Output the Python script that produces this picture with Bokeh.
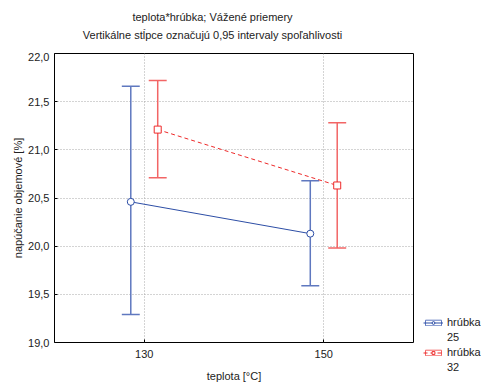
from bokeh.plotting import figure
from bokeh.layouts import row, column
from bokeh.models import FixedTicker, Legend, LegendItem, Range1d
from bokeh.core.properties import value
from bokeh.embed import file_html
from bokeh.resources import INLINE

# ---- data ----
temps = [130, 150]
x_ticks = [130, 150]
y_ticks = [19.0, 19.5, 20.0, 20.5, 21.0, 21.5, 22.0]
series_label = "hrúbka"
series_values = ["25", "32"]
offsets = [-1.5, 1.5]
means_25 = [20.46, 20.13]
upper_25 = [21.66, 20.68]
lower_25 = [19.29, 19.59]
means_32 = [21.21, 20.63]
upper_32 = [21.72, 21.28]
lower_32 = [20.71, 19.98]
cap_half = 1.0

titles = ["teplota*hrúbka; Vážené priemery",
          "Vertikálne stĺpce označujú 0,95 intervaly spoľahlivosti"]
xlabel = "teplota [°C]"
ylabel = "napúčanie objemové [%]"

FONT = "Liberation Sans"
TXT = "#222222"
BLUE = "#2d4ea6"
BLUE_BAR = "#5f78bf"
RED = "#ee2a2a"
RED_BAR = "#f26565"

HEAD_H = 52

# ---- header strip with the two title lines (pixel-like coordinates) ----
head = figure(width=481, height=HEAD_H, output_backend="svg", toolbar_location=None, title=None,
              x_range=Range1d(0, 481), y_range=Range1d(0, HEAD_H),
              x_axis_location=None, y_axis_location=None,
              min_border_left=0, min_border_right=0, min_border_top=0, min_border_bottom=0)
try:
    head.frame_align = False
except Exception:
    pass
head.grid.visible = False
head.outline_line_color = None
head.background_fill_color = "white"
head.border_fill_color = "white"
head.text(x=[212, 212], y=[HEAD_H - 16, HEAD_H - 34], text=titles,
          text_align="center", text_baseline="middle",
          text_font=value(FONT), text_font_size="11px", text_color=TXT)

# ---- main plot ----
p = figure(width=414, height=384 - HEAD_H, output_backend="svg", toolbar_location=None, title=None,
           x_range=Range1d(120, 160), y_range=Range1d(19.0, 22.0),
           min_border_left=54, min_border_right=1, min_border_top=1, min_border_bottom=41)

p.outline_line_color = "black"
p.outline_line_width = 1
p.background_fill_color = "white"
p.border_fill_color = "white"

for ax in (p.xaxis[0], p.yaxis[0]):
    ax.major_tick_line_color = "black"
    ax.minor_tick_line_color = None
    ax.major_tick_out = 0
    ax.major_tick_in = 3
    ax.minor_tick_out = 0
    ax.minor_tick_in = 0
    ax.axis_line_color = None
    ax.major_label_text_font = FONT
    ax.major_label_text_font_size = "11px"
    ax.major_label_text_color = TXT
    ax.axis_label_text_font = FONT
    ax.axis_label_text_font_size = "11px"
    ax.axis_label_text_font_style = "normal"
    ax.axis_label_text_color = TXT

p.xaxis.ticker = FixedTicker(ticks=x_ticks)
p.xaxis.major_label_overrides = {t: str(t) for t in x_ticks}
p.xaxis.axis_label = xlabel
p.xaxis.major_label_standoff = 7
p.xaxis.axis_label_standoff = 9
p.yaxis.ticker = FixedTicker(ticks=y_ticks)
p.yaxis.major_label_overrides = {t: f"{t:.1f}".replace(".", ",") for t in y_ticks}
p.yaxis.axis_label = ylabel
p.yaxis.major_label_standoff = 5
p.yaxis.axis_label_standoff = 1

for g in (p.xgrid[0], p.ygrid[0]):
    g.grid_line_color = "#a8a8a8"
    g.grid_line_dash = "1 2"
    g.grid_line_width = 1

# ---- legend panel figure (renderers reuse the data, outside its visible range) ----
lg = figure(width=67, height=384 - HEAD_H, output_backend="svg", toolbar_location=None, title=None,
            x_range=Range1d(0, 1), y_range=Range1d(0, 1),
            x_axis_location=None, y_axis_location=None,
            min_border_left=0, min_border_right=0, min_border_top=0, min_border_bottom=0)
try:
    lg.frame_align = False
except Exception:
    pass
lg.grid.visible = False
lg.outline_line_color = None
lg.background_fill_color = "white"
lg.border_fill_color = "white"

items = []
specs = [
    (means_25, upper_25, lower_25, offsets[0], BLUE, BLUE_BAR, "circle", "solid"),
    (means_32, upper_32, lower_32, offsets[1], RED, RED_BAR, "square", "4 3"),
]
for (m, up, lo, off, col, barcol, marker, dash), val in zip(specs, series_values):
    xs = [t + off for t in temps]
    p.segment(x0=xs, y0=lo, x1=xs, y1=up, line_color=barcol, line_width=1.5)
    p.segment(x0=[x - cap_half for x in xs], y0=up, x1=[x + cap_half for x in xs], y1=up,
              line_color=barcol, line_width=1.5)
    p.segment(x0=[x - cap_half for x in xs], y0=lo, x1=[x + cap_half for x in xs], y1=lo,
              line_color=barcol, line_width=1.5)
    p.line(xs, m, line_color=col, line_width=1, line_dash=dash)
    p.scatter(xs, m, marker=marker, size=7, fill_color="white", line_color=col, line_width=1)
    # legend samples
    lbox = lg.rect(x=xs, y=m, width=1, height=1, fill_color=None, line_color=barcol, line_width=1)
    lln = lg.line(xs, m, line_color=col, line_width=1, line_dash=dash)
    lmk = lg.scatter(xs, m, marker=marker, size=7, fill_color="white", line_color=col, line_width=1)
    blank = lg.scatter(xs, m, marker="circle", size=1, fill_alpha=0, line_alpha=0)
    items.append(LegendItem(label=series_label, renderers=[lbox, lln, lmk]))
    items.append(LegendItem(label=val, renderers=[blank]))

legend = Legend(items=items, location=(9, 11), orientation="vertical",
                label_text_font=FONT, label_text_font_size="11px", label_text_color=TXT,
                background_fill_alpha=0, border_line_color=None, glyph_width=20,
                spacing=3, padding=2, margin=0, label_standoff=4, label_height=12, glyph_height=7)
lg.add_layout(legend, "center")

layout = column(head, row(p, lg, spacing=0), spacing=0)
open("out.html", "w").write(file_html(layout, INLINE))
